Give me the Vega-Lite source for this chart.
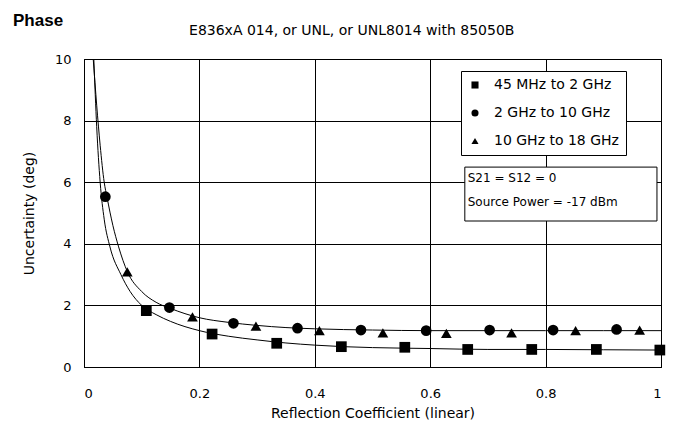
{
  "$schema": "https://vega.github.io/schema/vega-lite/v6.json",
  "width": 577,
  "height": 308,
  "autosize": "none",
  "padding": {"left": 84, "top": 59, "right": 14, "bottom": 72},
  "background": "white",
  "title": {"text": "Phase", "anchor": "start", "frame": "group", "dx": -71, "offset": -6, "fontSize": 17, "fontWeight": "bold", "font": "Liberation Sans", "color": "black"},
  "config": {
    "font": "DejaVu Sans",
    "view": {"stroke": "black", "strokeWidth": 1},
    "axis": {"gridColor": "black", "gridOpacity": 1, "gridWidth": 1, "domainColor": "black", "ticks": false, "labelColor": "black", "titleColor": "black", "labelFont": "DejaVu Sans", "titleFont": "DejaVu Sans", "labelFontSize": 13, "titleFontSize": 14, "titleFontWeight": "normal"}
  },
  "datasets": {
    "curves": [
      {"series": "upper", "x": 0.016, "y": 10},
      {"series": "upper", "x": 0.022, "y": 8.5},
      {"series": "upper", "x": 0.028, "y": 7.2},
      {"series": "upper", "x": 0.035, "y": 6.0},
      {"series": "upper", "x": 0.04, "y": 5.5},
      {"series": "upper", "x": 0.05, "y": 4.6},
      {"series": "upper", "x": 0.06, "y": 3.9},
      {"series": "upper", "x": 0.075, "y": 3.1},
      {"series": "upper", "x": 0.1, "y": 2.45},
      {"series": "upper", "x": 0.125, "y": 2.1},
      {"series": "upper", "x": 0.15, "y": 1.9},
      {"series": "upper", "x": 0.2, "y": 1.6},
      {"series": "upper", "x": 0.25, "y": 1.45},
      {"series": "upper", "x": 0.3, "y": 1.35},
      {"series": "upper", "x": 0.35, "y": 1.28},
      {"series": "upper", "x": 0.4, "y": 1.24},
      {"series": "upper", "x": 0.5, "y": 1.2},
      {"series": "upper", "x": 0.6, "y": 1.18},
      {"series": "upper", "x": 0.7, "y": 1.18},
      {"series": "upper", "x": 0.8, "y": 1.18},
      {"series": "upper", "x": 0.9, "y": 1.18},
      {"series": "upper", "x": 1.0, "y": 1.18},
      {"series": "lower", "x": 0.017, "y": 10},
      {"series": "lower", "x": 0.022, "y": 7.8},
      {"series": "lower", "x": 0.028, "y": 6.0},
      {"series": "lower", "x": 0.035, "y": 4.8},
      {"series": "lower", "x": 0.045, "y": 3.9},
      {"series": "lower", "x": 0.064, "y": 3.0},
      {"series": "lower", "x": 0.08, "y": 2.45},
      {"series": "lower", "x": 0.1, "y": 2.0},
      {"series": "lower", "x": 0.125, "y": 1.7},
      {"series": "lower", "x": 0.15, "y": 1.48},
      {"series": "lower", "x": 0.2, "y": 1.18},
      {"series": "lower", "x": 0.25, "y": 1.0},
      {"series": "lower", "x": 0.3, "y": 0.88},
      {"series": "lower", "x": 0.35, "y": 0.78},
      {"series": "lower", "x": 0.4, "y": 0.71},
      {"series": "lower", "x": 0.45, "y": 0.66},
      {"series": "lower", "x": 0.5, "y": 0.63},
      {"series": "lower", "x": 0.6, "y": 0.6},
      {"series": "lower", "x": 0.7, "y": 0.57},
      {"series": "lower", "x": 0.8, "y": 0.57},
      {"series": "lower", "x": 0.9, "y": 0.56},
      {"series": "lower", "x": 1.0, "y": 0.55}
    ],
    "points": [
      {"band": "45 MHz to 2 GHz", "x": 0.108, "y": 1.83},
      {"band": "45 MHz to 2 GHz", "x": 0.222, "y": 1.07},
      {"band": "45 MHz to 2 GHz", "x": 0.334, "y": 0.77},
      {"band": "45 MHz to 2 GHz", "x": 0.446, "y": 0.66},
      {"band": "45 MHz to 2 GHz", "x": 0.556, "y": 0.64},
      {"band": "45 MHz to 2 GHz", "x": 0.665, "y": 0.57},
      {"band": "45 MHz to 2 GHz", "x": 0.776, "y": 0.57},
      {"band": "45 MHz to 2 GHz", "x": 0.888, "y": 0.57},
      {"band": "45 MHz to 2 GHz", "x": 0.998, "y": 0.55},
      {"band": "2 GHz to 10 GHz", "x": 0.037, "y": 5.53},
      {"band": "2 GHz to 10 GHz", "x": 0.148, "y": 1.93},
      {"band": "2 GHz to 10 GHz", "x": 0.259, "y": 1.42},
      {"band": "2 GHz to 10 GHz", "x": 0.37, "y": 1.26},
      {"band": "2 GHz to 10 GHz", "x": 0.48, "y": 1.2},
      {"band": "2 GHz to 10 GHz", "x": 0.593, "y": 1.18},
      {"band": "2 GHz to 10 GHz", "x": 0.703, "y": 1.2},
      {"band": "2 GHz to 10 GHz", "x": 0.813, "y": 1.2},
      {"band": "2 GHz to 10 GHz", "x": 0.923, "y": 1.22},
      {"band": "10 GHz to 18 GHz", "x": 0.075, "y": 3.09},
      {"band": "10 GHz to 18 GHz", "x": 0.188, "y": 1.63},
      {"band": "10 GHz to 18 GHz", "x": 0.298, "y": 1.33},
      {"band": "10 GHz to 18 GHz", "x": 0.408, "y": 1.18},
      {"band": "10 GHz to 18 GHz", "x": 0.518, "y": 1.11},
      {"band": "10 GHz to 18 GHz", "x": 0.628, "y": 1.09},
      {"band": "10 GHz to 18 GHz", "x": 0.741, "y": 1.11},
      {"band": "10 GHz to 18 GHz", "x": 0.852, "y": 1.18},
      {"band": "10 GHz to 18 GHz", "x": 0.963, "y": 1.2}
    ]
  },
  "layer": [
    {
      "data": {"name": "curves"},
      "mark": {"type": "line", "interpolate": "monotone", "color": "black", "strokeWidth": 1},
      "encoding": {
        "x": {"field": "x", "type": "quantitative", "scale": {"domain": [0, 1], "nice": false}, "axis": {"values": [0, 0.2, 0.4, 0.6, 0.8, 1], "format": "~g", "title": "Reflection Coefficient (linear)", "labelPadding": 20, "titlePadding": 6}},
        "y": {"field": "y", "type": "quantitative", "scale": {"domain": [0, 10], "nice": false}, "axis": {"values": [0, 2, 4, 6, 8, 10], "title": "Uncertainty (deg)", "labelPadding": 13, "titlePadding": 18}},
        "detail": {"field": "series"}
      }
    },
    {
      "data": {"name": "points"},
      "mark": {"type": "point", "filled": true, "color": "black", "opacity": 1, "size": 115},
      "encoding": {
        "x": {"field": "x", "type": "quantitative"},
        "y": {"field": "y", "type": "quantitative"},
        "shape": {
          "field": "band", "type": "nominal",
          "scale": {"domain": ["45 MHz to 2 GHz", "2 GHz to 10 GHz", "10 GHz to 18 GHz"], "range": ["square", "circle", "triangle-up"]},
          "legend": {"title": null, "orient": "none", "legendX": 377, "legendY": 12, "strokeColor": "black", "fillColor": "white", "padding": 7, "rowPadding": 14, "symbolSize": 50, "symbolFillColor": "black", "symbolStrokeColor": "black", "labelFontSize": 14, "labelFont": "DejaVu Sans", "labelColor": "black", "labelOffset": 12, "cornerRadius": 0}
        }
      }
    },
    {
      "data": {"values": [{}]},
      "mark": {"type": "rect", "fill": "white", "stroke": "black", "strokeWidth": 1},
      "encoding": {
        "x": {"datum": 0.66, "type": "quantitative"},
        "x2": {"datum": 0.993},
        "y": {"datum": 6.49, "type": "quantitative"},
        "y2": {"datum": 4.74}
      }
    },
    {
      "data": {"values": [{}]},
      "mark": {"type": "text", "align": "left", "baseline": "middle", "fontSize": 12, "font": "DejaVu Sans", "color": "black"},
      "encoding": {
        "x": {"datum": 0.665, "type": "quantitative"},
        "y": {"datum": 6.14, "type": "quantitative"},
        "text": {"value": "S21 = S12 = 0"}
      }
    },
    {
      "data": {"values": [{}]},
      "mark": {"type": "text", "align": "left", "baseline": "middle", "fontSize": 12, "font": "DejaVu Sans", "color": "black"},
      "encoding": {
        "x": {"datum": 0.665, "type": "quantitative"},
        "y": {"datum": 5.36, "type": "quantitative"},
        "text": {"value": "Source Power = -17 dBm"}
      }
    },
    {
      "data": {"values": [{}]},
      "mark": {"type": "text", "align": "center", "baseline": "middle", "fontSize": 14, "font": "DejaVu Sans", "color": "black", "dy": -28},
      "encoding": {
        "x": {"datum": 0.464, "type": "quantitative"},
        "y": {"datum": 10, "type": "quantitative"},
        "text": {"value": "E836xA 014, or UNL, or UNL8014 with 85050B"}
      }
    }
  ]
}
